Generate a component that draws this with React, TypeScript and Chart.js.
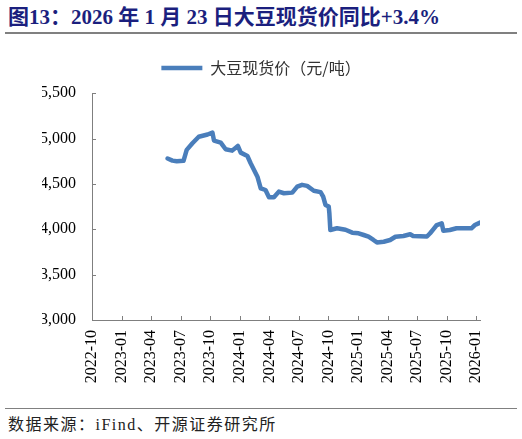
import { useEffect, useRef } from 'react';
import { Chart, registerables } from 'chart.js';

Chart.register(...registerables);

// 大豆现货价（元/吨）
const dates = [
  '2023-05-22', '2023-06-06', '2023-06-19', '2023-07-10', '2023-07-20', '2023-08-07',
  '2023-08-27', '2023-09-23', '2023-10-08', '2023-10-13', '2023-11-03', '2023-11-18',
  '2023-12-08', '2023-12-26', '2024-01-04', '2024-01-25', '2024-02-04', '2024-02-14',
  '2024-02-24', '2024-03-05', '2024-03-20', '2024-03-31', '2024-04-15', '2024-04-30',
  '2024-05-16', '2024-06-11', '2024-06-26', '2024-07-11', '2024-07-27', '2024-08-17',
  '2024-09-07', '2024-09-15', '2024-09-22', '2024-10-02', '2024-10-04', '2024-10-07',
  '2024-10-28', '2024-11-23', '2024-12-14', '2025-01-03', '2025-01-19', '2025-02-03',
  '2025-02-17', '2025-02-27', '2025-03-20', '2025-04-09', '2025-04-25', '2025-05-20',
  '2025-06-10', '2025-06-19', '2025-08-01', '2025-08-11', '2025-08-21', '2025-09-01',
  '2025-09-16', '2025-09-21', '2025-10-11', '2025-11-01', '2025-12-17', '2025-12-28',
  '2026-01-13',
];
const prices = [
  4780, 4757, 4750, 4755, 4875, 4948,
  5020, 5045, 5066, 4977, 4955, 4882,
  4867, 4919, 4845, 4808, 4728, 4654,
  4580, 4452, 4433, 4353, 4353, 4415,
  4397, 4404, 4470, 4490, 4478, 4425,
  4410, 4360, 4268, 4250, 4176, 3992,
  4011, 3995, 3963, 3956, 3937, 3918,
  3882, 3855, 3863, 3882, 3918, 3926,
  3945, 3926, 3920, 3956, 4000, 4047,
  4066, 3985, 3992, 4011, 4011, 4047,
  4073,
];
const yMin = 3000;
const yMax = 5500;
const yStep = 500;
const xStepMonths = 3;
const baseYear = 2022;
const baseMonth = 10;

const seriesName = '大豆现货价（元/吨）';
const lineColor = '#4A7EBB';
const axisColor = '#7f7f7f';
const serif = "'Liberation Serif', 'Times New Roman', serif";

function monthIndex(d: string) {
  const [y, m, day] = d.split('-').map(Number);
  const dim = new Date(y, m, 0).getDate();
  return (y - baseYear) * 12 + (m - baseMonth) + (day - 1) / dim;
}

function monthLabel(v: number) {
  const total = baseMonth - 1 + Math.round(v);
  const y = baseYear + Math.floor(total / 12);
  const m = (total % 12) + 1;
  return `${y}-${String(m).padStart(2, '0')}`;
}

// 刻度线朝内
const innerTicks = {
  id: 'innerTicks',
  afterDraw(chart: any) {
    const { ctx, chartArea } = chart;
    const x = chart.scales.x;
    const y = chart.scales.y;
    ctx.save();
    ctx.strokeStyle = axisColor;
    ctx.lineWidth = 1;
    ctx.beginPath();
    x.ticks.forEach((t: any) => {
      const px = Math.round(x.getPixelForValue(t.value)) + 0.5;
      ctx.moveTo(px, chartArea.bottom);
      ctx.lineTo(px, chartArea.bottom - 4);
    });
    y.ticks.forEach((t: any) => {
      const py = Math.round(y.getPixelForValue(t.value)) + 0.5;
      ctx.moveTo(chartArea.left, py);
      ctx.lineTo(chartArea.left + 4, py);
    });
    ctx.stroke();
    ctx.restore();
  },
};

function PriceChart() {
  const canvasRef = useRef<HTMLCanvasElement>(null);

  useEffect(() => {
    if (!canvasRef.current) return;
    const points = dates.map((d, i) => ({ x: monthIndex(d), y: prices[i] }));
    const xMax = points[points.length - 1].x;

    const chart = new Chart(canvasRef.current, {
      type: 'line',
      data: {
        datasets: [
          {
            label: seriesName,
            data: points,
            borderColor: lineColor,
            backgroundColor: lineColor,
            borderWidth: 4.5,
            borderCapStyle: 'round',
            borderJoinStyle: 'round',
            pointRadius: 0,
            pointStyle: 'line',
            tension: 0,
          },
        ],
      },
      options: {
        responsive: true,
        maintainAspectRatio: false,
        animation: false,
        layout: { padding: { top: 10, right: 42, left: 42, bottom: 0 } },
        plugins: {
          legend: {
            position: 'top',
            labels: {
              usePointStyle: true,
              pointStyleWidth: 41,
              color: '#333',
              font: { family: "'Noto Sans CJK SC', sans-serif", size: 16 },
              padding: 10,
            },
          },
          // 空标题，只用来拉开图例与绘图区的距离
          title: {
            display: true,
            text: '',
            position: 'top',
            weight: 500,
            font: { size: 1 },
            padding: { top: 0, bottom: 6 },
          },
          tooltip: { enabled: false },
        },
        scales: {
          x: {
            type: 'linear',
            min: 0,
            max: xMax,
            grid: { display: false, drawTicks: false },
            border: { color: axisColor, width: 1 },
            afterBuildTicks: (scale: any) => {
              const ticks = [];
              for (let v = 0; v <= xMax + 1e-6; v += xStepMonths) ticks.push({ value: v });
              scale.ticks = ticks;
            },
            afterFit: (scale: any) => {
              scale.height = 80;
            },
            ticks: {
              minRotation: 90,
              maxRotation: 90,
              padding: 10,
              color: '#000',
              font: { family: serif, size: 16 },
              callback: (v: any) => monthLabel(Number(v)),
            },
          },
          y: {
            min: yMin,
            max: yMax,
            grid: { display: false, drawTicks: false },
            border: { color: axisColor, width: 1 },
            afterFit: (scale: any) => {
              scale.width = 50;
            },
            ticks: {
              stepSize: yStep,
              padding: 16,
              color: '#000',
              font: { family: serif, size: 16 },
              callback: (v: any) => Number(v).toLocaleString('en-US'),
            },
          },
        },
      },
      plugins: [innerTicks],
    });

    return () => {
      chart.destroy();
    };
  }, []);

  return <canvas ref={canvasRef} />;
}

export default function App() {
  return (
    <div
      style={{
        position: 'fixed',
        left: 0,
        top: 0,
        width: 522,
        height: 439,
        background: '#fff',
        fontFamily: "'Liberation Serif', 'Noto Sans CJK SC', serif",
      }}
    >
      <div
        style={{
          position: 'absolute',
          left: 8,
          top: 4,
          fontSize: 21,
          fontWeight: 'bold',
          color: '#1B1F7E',
          whiteSpace: 'nowrap',
          lineHeight: '26px',
        }}
      >
        图13：2026 年 1 月 23 日大豆现货价同比+3.4%
      </div>
      <div style={{ position: 'absolute', left: 5, width: 512, top: 32, height: 2, background: '#808080' }} />
      <div style={{ position: 'absolute', left: 0, top: 40, width: 522, height: 360 }}>
        <PriceChart />
      </div>
      <div style={{ position: 'absolute', left: 5, width: 512, top: 408, height: 1, background: '#808080' }} />
      <div
        style={{
          position: 'absolute',
          left: 8,
          top: 415,
          fontSize: 16,
          color: '#222',
          letterSpacing: 1.5,
          whiteSpace: 'nowrap',
          lineHeight: '20px',
        }}
      >
        数据来源：iFind、开源证券研究所
      </div>
    </div>
  );
}
